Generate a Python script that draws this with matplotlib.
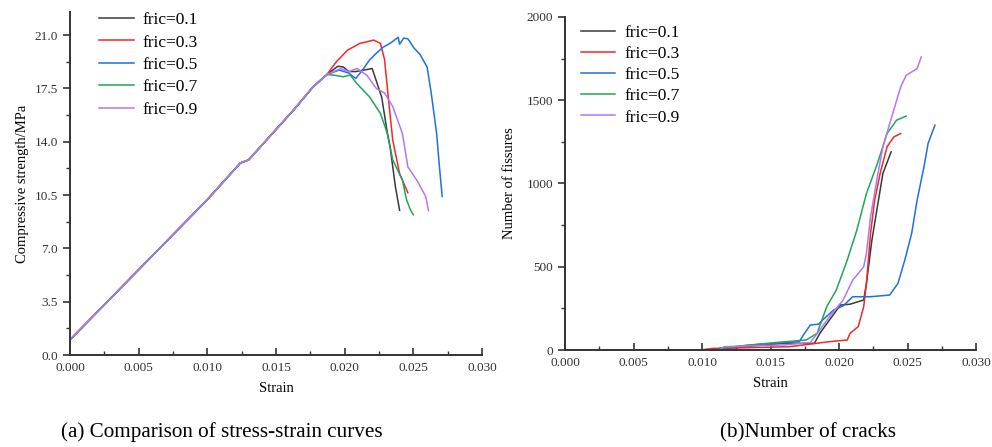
import numpy as np
import matplotlib
matplotlib.use("Agg")
import matplotlib.pyplot as plt
from matplotlib.ticker import MultipleLocator

plt.rcParams["font.family"] = ["Liberation Serif", "DejaVu Serif"]

labels = ["fric=0.1", "fric=0.3", "fric=0.5", "fric=0.7", "fric=0.9"]
colors = ["#3a3a3a", "#ee2a2a", "#1f6fe6", "#22a55a", "#b377f0"]

# Shared elastic part of the stress-strain curves (strain, MPa)
base_x = [0.0, 0.0050, 0.0100, 0.0118, 0.0124, 0.0130, 0.0138, 0.0163, 0.0177, 0.0187]
base_y = [1.0, 5.6, 10.2, 12.0, 12.6, 12.8, 13.6, 16.1, 17.6, 18.4]

# Post-yield parts
ss_x = [
    [0.0195, 0.0199, 0.0203, 0.0208, 0.0214, 0.0220, 0.0223, 0.0227, 0.0231, 0.0233, 0.0237, 0.0240],
    [0.0194, 0.0202, 0.0211, 0.0216, 0.0221, 0.0226, 0.0229, 0.0232, 0.0235, 0.0240, 0.0246],
    [0.0196, 0.0203, 0.0208, 0.0213, 0.0218, 0.0223, 0.0228, 0.0233, 0.0239, 0.0240, 0.0243,
     0.0246, 0.0248, 0.0250, 0.0255, 0.0260, 0.0263, 0.0267, 0.0269, 0.0271],
    [0.0192, 0.0199, 0.0204, 0.0209, 0.0218, 0.0226, 0.0231, 0.0235, 0.0242, 0.0245, 0.0248, 0.0250],
    [0.0197, 0.0203, 0.0209, 0.0216, 0.0223, 0.0229, 0.0235, 0.0242, 0.0246, 0.0253, 0.0259, 0.0261],
]
ss_y = [
    [18.95, 18.9, 18.6, 18.6, 18.7, 18.8, 18.0, 16.9, 14.6, 13.7, 11.0, 9.5],
    [19.25, 20.0, 20.45, 20.55, 20.67, 20.45, 19.4, 16.7, 14.1, 11.9, 10.65],
    [18.7, 18.5, 18.15, 18.7, 19.35, 19.8, 20.2, 20.45, 20.85, 20.4, 20.8, 20.75, 20.5,
     20.2, 19.7, 18.9, 17.2, 14.5, 12.35, 10.4],
    [18.37, 18.26, 18.37, 17.8, 16.95, 15.86, 14.55, 12.8, 11.5, 10.2, 9.5, 9.2],
    [18.8, 18.6, 18.8, 18.37, 17.5, 17.2, 16.3, 14.55, 12.35, 11.4, 10.4, 9.47],
]

# Number of fissures
fis_x = [
    [0.0118, 0.0159, 0.0182, 0.0186, 0.0193, 0.0201, 0.0208, 0.0218, 0.0220, 0.0224, 0.0228,
     0.0232, 0.0238],
    [0.0099, 0.0108, 0.0114, 0.0164, 0.0193, 0.0206, 0.0208, 0.0214, 0.0218, 0.0220, 0.0223,
     0.0226, 0.0230, 0.0235, 0.0240, 0.0245],
    [0.0113, 0.0135, 0.0171, 0.0174, 0.0179, 0.0185, 0.0188, 0.0196, 0.0203, 0.0210, 0.0223,
     0.0237, 0.0243, 0.0248, 0.0253, 0.0257, 0.0262, 0.0265, 0.0270],
    [0.0113, 0.0135, 0.0154, 0.0176, 0.0184, 0.0191, 0.0198, 0.0206, 0.0213, 0.0220, 0.0228,
     0.0235, 0.0242, 0.0249],
    [0.0, 0.0113, 0.0116, 0.0159, 0.0179, 0.0186, 0.0193, 0.0203, 0.0210, 0.0218, 0.0220,
     0.0223, 0.0228, 0.0232, 0.0237, 0.0245, 0.0249, 0.0257, 0.0260],
]
fis_y = [
    [10, 40, 40, 100, 180, 270, 275, 300, 400, 660, 860, 1060, 1190],
    [0, 10, 10, 20, 50, 60, 100, 140, 260, 400, 700, 900, 1060, 1220, 1280, 1300],
    [10, 30, 50, 90, 150, 155, 180, 240, 265, 320, 320, 330, 400, 540, 700, 900, 1100,
     1240, 1350],
    [10, 30, 45, 60, 100, 260, 360, 540, 720, 940, 1120, 1300, 1380, 1405],
    [0, 0, 20, 30, 45, 120, 200, 300, 420, 500, 580, 800, 1040, 1220, 1360, 1580, 1650,
     1690, 1760],
]

fig = plt.figure(figsize=(9.92, 4.47), dpi=100)
ax1 = fig.add_axes([0.0706, 0.2058, 0.4153, 0.767])
ax2 = fig.add_axes([0.5696, 0.2170, 0.4143, 0.745])


def style(ax):
    for s in ["top", "right"]:
        ax.spines[s].set_visible(False)
    for s in ["left", "bottom"]:
        ax.spines[s].set_linewidth(1.4)
        ax.spines[s].set_color("#333333")
    ax.tick_params(axis="x", which="both", direction="in", colors="#333333", labelsize=9.5, pad=5)
    ax.tick_params(axis="y", which="both", direction="out", colors="#333333", labelsize=9.5)
    ax.tick_params(which="major", length=5, width=1.2)
    ax.tick_params(which="minor", length=3, width=1.0)
    ax.set_xlim(0, 0.030)
    ax.xaxis.set_major_locator(MultipleLocator(0.005))
    ax.xaxis.set_minor_locator(MultipleLocator(0.0025))
    ax.xaxis.set_major_formatter(matplotlib.ticker.FormatStrFormatter("%.3f"))
    ax.set_xlabel("Strain", fontsize=10.5, labelpad=6)


for i in range(5):
    xs = base_x + ss_x[i]
    ys = base_y + ss_y[i]
    ax1.plot(xs, ys, color=colors[i], lw=1.1, label=labels[i])
style(ax1)
ax1.set_ylim(0, 22.5)
ax1.yaxis.set_major_locator(MultipleLocator(3.5))
ax1.yaxis.set_minor_locator(MultipleLocator(1.75))
ax1.yaxis.set_major_formatter(matplotlib.ticker.FormatStrFormatter("%.1f"))
ax1.set_ylabel("Compressive strength/MPa", fontsize=10.5, labelpad=4)
ax1.legend(loc="upper left", bbox_to_anchor=(0.033, 1.046), frameon=False, fontsize=12.5,
           handlelength=2.0, handletextpad=0.5, labelspacing=0.36)

for i in range(5):
    ax2.plot(fis_x[i], fis_y[i], color=colors[i], lw=1.1, label=labels[i])
style(ax2)
ax2.set_ylim(0, 2000)
ax2.yaxis.set_major_locator(MultipleLocator(500))
ax2.yaxis.set_minor_locator(MultipleLocator(250))
ax2.set_ylabel("Number of fissures", fontsize=10.5, labelpad=8)
ax2.legend(loc="upper left", bbox_to_anchor=(0.0, 1.024), frameon=False, fontsize=12.5,
           handlelength=2.0, handletextpad=0.5, labelspacing=0.29)

fig.text(0.224, 0.022, "(a) Comparison of stress-strain curves", fontsize=15.2, ha="center")
fig.text(0.815, 0.022, "(b)Number of cracks", fontsize=15.2, ha="center")

fig.savefig("out.png", dpi=100)
